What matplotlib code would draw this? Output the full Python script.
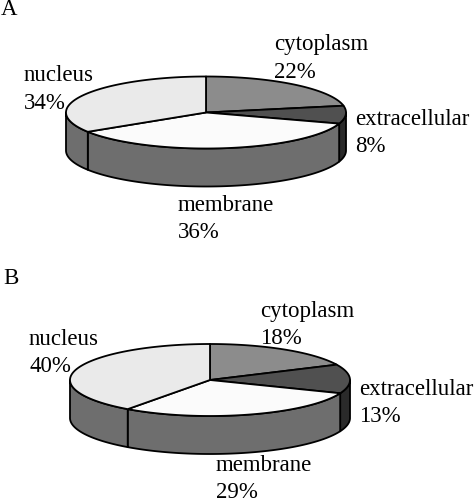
import numpy as np
import matplotlib
matplotlib.use('Agg')
import matplotlib.pyplot as plt

plt.rcParams['font.family'] = ['Liberation Serif', 'DejaVu Serif']

# Values
categories = ['cytoplasm', 'extracellular', 'membrane', 'nucleus']
values_a = [22, 8, 36, 34]
values_b = [18, 13, 29, 40]

# Colours per slice
top_colors = ['#8c8c8c', '#505050', '#fbfbfb', '#eaeaea']
side_colors = ['#464646', '#2a2a2a', '#6e6e6e', '#6e6e6e']

RX = 140
RY = 36
DEPTH = 38


def ellipse_points(cx, cy, t0, t1):
    # angles in degrees, clockwise from the top of the pie
    t = np.radians(np.linspace(t0, t1, max(int(abs(t1 - t0)) * 2, 2)))
    return cx + RX * np.sin(t), cy - RY * np.cos(t)


def draw_pie(ax, cx, cy, values):
    edges = np.concatenate([[0], np.cumsum(values)]) * 360.0 / sum(values)

    # side wall, only the front half can be seen
    for i in range(len(values)):
        t0 = max(edges[i], 90)
        t1 = min(edges[i + 1], 270)
        if t1 <= t0:
            continue
        x, y = ellipse_points(cx, cy, t0, t1)
        ax.fill(np.r_[x, x[::-1]], np.r_[y, y[::-1] + DEPTH],
                facecolor=side_colors[i], edgecolor='black', lw=1.3,
                joinstyle='round', zorder=2)

    # top face
    for i in range(len(values)):
        x, y = ellipse_points(cx, cy, edges[i], edges[i + 1])
        ax.fill(np.r_[cx, x], np.r_[cy, y],
                facecolor=top_colors[i], edgecolor='black', lw=1.3,
                joinstyle='round', zorder=3)


def draw_labels(ax, values, positions):
    for name, val, (x, y) in zip(categories, values, positions):
        ax.text(x, y, name, fontsize=16.5, color='black', zorder=4)
        ax.text(x, y + 27.5, '%d%%' % val, fontsize=16.5, color='black', zorder=4)


fig = plt.figure(figsize=(4.75, 5.03), dpi=100)
ax = fig.add_axes([0, 0, 1, 1])
ax.set_xlim(0, 475)
ax.set_ylim(503, 0)
ax.axis('off')

draw_pie(ax, 206, 112.5, values_a)
draw_labels(ax, values_a, [(274, 50), (355.5, 125), (178, 211), (24, 81)])
ax.text(1, 15, 'A', fontsize=16.5)

draw_pie(ax, 210, 380, values_b)
draw_labels(ax, values_b, [(260, 317), (359, 395), (216, 471), (29, 345)])
ax.text(3, 284, 'B', fontsize=16.5)

fig.savefig('out.png', dpi=100)
